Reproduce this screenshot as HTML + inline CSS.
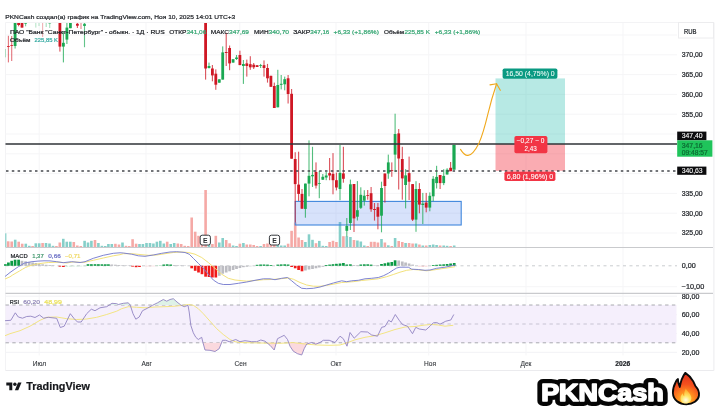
<!DOCTYPE html>
<html lang="ru"><head><meta charset="utf-8"><title>PKNCash — TradingView</title>
<style>
html,body{margin:0;padding:0;background:#fff;}
body{width:720px;height:411px;overflow:hidden;position:relative;font-family:"Liberation Sans",sans-serif;}
svg{position:absolute;left:0;top:0;display:block}
text{font-family:"Liberation Sans",sans-serif;}
</style></head><body>
<svg width="720" height="411" viewBox="0 0 720 411">
<defs>
<clipPath id="cp"><rect x="5" y="23" width="672" height="225"/></clipPath>
<radialGradient id="fg1" gradientUnits="userSpaceOnUse" cx="188" cy="320" r="240"><stop offset="0" stop-color="#ffc531"/><stop offset="0.3" stop-color="#ff8f1f"/><stop offset="0.6" stop-color="#f4511e"/><stop offset="1" stop-color="#e0301a"/></radialGradient>
<radialGradient id="fg2" gradientUnits="userSpaceOnUse" cx="190" cy="320" r="110"><stop offset="0" stop-color="#fffbe6"/><stop offset="0.35" stop-color="#ffe66a"/><stop offset="0.8" stop-color="#ffb02e"/><stop offset="1" stop-color="#ff9a26" stop-opacity="0.6"/></radialGradient>
</defs>
<rect width="720" height="411" fill="#fff"/>

<g stroke="#ececee" stroke-width="1" fill="none">
<path d="M5.5 370.5V22.5H713.5" stroke="#f3f3f5"/><path d="M713.9 22.5V370.5H5.5" stroke="#ebebee"/>
<path d="M5.5 233.0H677" stroke="#f5f5f7"/>
<path d="M5.5 213.2H677" stroke="#f5f5f7"/>
<path d="M5.5 193.4H677" stroke="#f5f5f7"/>
<path d="M5.5 173.6H677" stroke="#f5f5f7"/>
<path d="M5.5 153.8H677" stroke="#f5f5f7"/>
<path d="M5.5 134.0H677" stroke="#f5f5f7"/>
<path d="M5.5 114.2H677" stroke="#f5f5f7"/>
<path d="M5.5 94.4H677" stroke="#f5f5f7"/>
<path d="M5.5 74.6H677" stroke="#f5f5f7"/>
<path d="M5.5 54.8H677" stroke="#f5f5f7"/>
<path d="M5.5 35.0H677" stroke="#f5f5f7"/>
<path d="M5.5 286.7H677" stroke="#f5f5f7"/>
<path d="M5.5 296.2H677" stroke="#f2f2f5"/>
<path d="M5.5 314.7H677" stroke="#f2f2f5"/>
<path d="M5.5 333.5H677" stroke="#f2f2f5"/>
<path d="M5.5 352.3H677" stroke="#f2f2f5"/>
<path d="M39.2 23V355.5" stroke="#f5f5f7"/>
<path d="M146 23V355.5" stroke="#f5f5f7"/>
<path d="M239.8 23V355.5" stroke="#f5f5f7"/>
<path d="M336 23V355.5" stroke="#f5f5f7"/>
<path d="M428.7 23V355.5" stroke="#f5f5f7"/>
<path d="M526 23V355.5" stroke="#f5f5f7"/>
<path d="M623 23V355.5" stroke="#f5f5f7"/>
</g>
<rect x="5.5" y="305" width="671" height="37.8" fill="#f5effc"/>
<g clip-path="url(#cp)">
<rect x="5.20" y="233.3" width="1.2" height="13.7" fill="#86cfc9"/>
<rect x="6.90" y="241.3" width="2.6" height="5.7" fill="#f5a9a6"/>
<rect x="10.40" y="241.5" width="2.6" height="5.5" fill="#f5a9a6"/>
<rect x="13.90" y="239.7" width="2.6" height="7.3" fill="#86cfc9"/>
<rect x="17.40" y="241.7" width="2.6" height="5.3" fill="#f5a9a6"/>
<rect x="20.90" y="243.7" width="2.6" height="3.3" fill="#f5a9a6"/>
<rect x="24.50" y="243.7" width="2.6" height="3.3" fill="#86cfc9"/>
<rect x="28.00" y="245.8" width="2.6" height="1.2" fill="#86cfc9"/>
<rect x="31.30" y="246.0" width="2.6" height="1.0" fill="#f5a9a6"/>
<rect x="34.50" y="243.3" width="2.6" height="3.7" fill="#86cfc9"/>
<rect x="37.90" y="243.3" width="2.6" height="3.7" fill="#86cfc9"/>
<rect x="41.30" y="243.0" width="2.6" height="4.0" fill="#f5a9a6"/>
<rect x="44.70" y="243.0" width="2.6" height="4.0" fill="#86cfc9"/>
<rect x="48.20" y="243.5" width="2.6" height="3.5" fill="#86cfc9"/>
<rect x="51.70" y="245.8" width="2.6" height="1.2" fill="#86cfc9"/>
<rect x="55.10" y="246.0" width="2.6" height="1.0" fill="#f5a9a6"/>
<rect x="58.50" y="242.5" width="2.6" height="4.5" fill="#f5a9a6"/>
<rect x="62.00" y="238.8" width="2.6" height="8.2" fill="#86cfc9"/>
<rect x="65.50" y="241.7" width="2.6" height="5.3" fill="#86cfc9"/>
<rect x="69.00" y="241.7" width="2.6" height="5.3" fill="#86cfc9"/>
<rect x="72.50" y="242.0" width="2.6" height="5.0" fill="#f5a9a6"/>
<rect x="76.00" y="245.5" width="2.6" height="1.5" fill="#f5a9a6"/>
<rect x="79.50" y="246.0" width="2.6" height="1.0" fill="#f5a9a6"/>
<rect x="83.30" y="240.8" width="2.6" height="6.2" fill="#86cfc9"/>
<rect x="86.70" y="242.5" width="2.6" height="4.5" fill="#86cfc9"/>
<rect x="90.10" y="240.8" width="2.6" height="6.2" fill="#86cfc9"/>
<rect x="93.70" y="240.0" width="2.6" height="7.0" fill="#f5a9a6"/>
<rect x="97.10" y="243.0" width="2.6" height="4.0" fill="#86cfc9"/>
<rect x="100.60" y="245.8" width="2.6" height="1.2" fill="#86cfc9"/>
<rect x="104.00" y="246.0" width="2.6" height="1.0" fill="#86cfc9"/>
<rect x="107.10" y="244.0" width="2.6" height="3.0" fill="#86cfc9"/>
<rect x="110.50" y="244.0" width="2.6" height="3.0" fill="#86cfc9"/>
<rect x="114.10" y="243.8" width="2.6" height="3.2" fill="#f5a9a6"/>
<rect x="117.70" y="244.5" width="2.6" height="2.5" fill="#f5a9a6"/>
<rect x="121.20" y="242.5" width="2.6" height="4.5" fill="#86cfc9"/>
<rect x="124.70" y="245.8" width="2.6" height="1.2" fill="#f5a9a6"/>
<rect x="128.00" y="246.0" width="2.6" height="1.0" fill="#f5a9a6"/>
<rect x="131.30" y="239.2" width="2.6" height="7.8" fill="#f5a9a6"/>
<rect x="134.80" y="243.7" width="2.6" height="3.3" fill="#f5a9a6"/>
<rect x="138.20" y="244.0" width="2.6" height="3.0" fill="#86cfc9"/>
<rect x="141.60" y="244.0" width="2.6" height="3.0" fill="#86cfc9"/>
<rect x="145.20" y="243.0" width="2.6" height="4.0" fill="#86cfc9"/>
<rect x="148.70" y="243.0" width="2.6" height="4.0" fill="#86cfc9"/>
<rect x="152.10" y="243.5" width="2.6" height="3.5" fill="#86cfc9"/>
<rect x="155.60" y="241.7" width="2.6" height="5.3" fill="#86cfc9"/>
<rect x="159.00" y="240.8" width="2.6" height="6.2" fill="#86cfc9"/>
<rect x="162.50" y="243.5" width="2.6" height="3.5" fill="#86cfc9"/>
<rect x="165.90" y="241.7" width="2.6" height="5.3" fill="#f5a9a6"/>
<rect x="169.40" y="244.0" width="2.6" height="3.0" fill="#86cfc9"/>
<rect x="172.90" y="243.0" width="2.6" height="4.0" fill="#86cfc9"/>
<rect x="176.50" y="243.5" width="2.6" height="3.5" fill="#f5a9a6"/>
<rect x="179.90" y="244.0" width="2.6" height="3.0" fill="#f5a9a6"/>
<rect x="183.40" y="245.8" width="2.6" height="1.2" fill="#f5a9a6"/>
<rect x="186.90" y="246.0" width="2.6" height="1.0" fill="#f5a9a6"/>
<rect x="190.40" y="217.5" width="2.6" height="29.5" fill="#f5a9a6"/>
<rect x="193.90" y="231.7" width="2.6" height="15.3" fill="#f5a9a6"/>
<rect x="197.20" y="235.8" width="2.6" height="11.2" fill="#f5a9a6"/>
<rect x="200.70" y="240.0" width="2.6" height="7.0" fill="#f5a9a6"/>
<rect x="204.30" y="190.0" width="2.6" height="57.0" fill="#f5a9a6"/>
<rect x="207.70" y="244.0" width="2.6" height="3.0" fill="#86cfc9"/>
<rect x="211.10" y="244.0" width="2.6" height="3.0" fill="#f5a9a6"/>
<rect x="214.50" y="235.8" width="2.6" height="11.2" fill="#f5a9a6"/>
<rect x="218.00" y="242.5" width="2.6" height="4.5" fill="#86cfc9"/>
<rect x="221.40" y="238.0" width="2.6" height="9.0" fill="#86cfc9"/>
<rect x="224.90" y="240.0" width="2.6" height="7.0" fill="#f5a9a6"/>
<rect x="228.30" y="243.3" width="2.6" height="3.7" fill="#f5a9a6"/>
<rect x="231.80" y="245.5" width="2.6" height="1.5" fill="#86cfc9"/>
<rect x="235.20" y="246.0" width="2.6" height="1.0" fill="#86cfc9"/>
<rect x="238.60" y="243.7" width="2.6" height="3.3" fill="#f5a9a6"/>
<rect x="242.10" y="243.0" width="2.6" height="4.0" fill="#86cfc9"/>
<rect x="245.50" y="244.5" width="2.6" height="2.5" fill="#f5a9a6"/>
<rect x="249.00" y="244.5" width="2.6" height="2.5" fill="#f5a9a6"/>
<rect x="252.40" y="245.0" width="2.6" height="2.0" fill="#f5a9a6"/>
<rect x="255.80" y="246.0" width="2.6" height="1.0" fill="#f5a9a6"/>
<rect x="259.30" y="246.0" width="2.6" height="1.0" fill="#86cfc9"/>
<rect x="262.70" y="244.0" width="2.6" height="3.0" fill="#f5a9a6"/>
<rect x="266.20" y="243.5" width="2.6" height="3.5" fill="#f5a9a6"/>
<rect x="269.60" y="242.0" width="2.6" height="5.0" fill="#f5a9a6"/>
<rect x="273.00" y="240.0" width="2.6" height="7.0" fill="#f5a9a6"/>
<rect x="276.50" y="241.0" width="2.6" height="6.0" fill="#86cfc9"/>
<rect x="279.90" y="245.5" width="2.6" height="1.5" fill="#86cfc9"/>
<rect x="283.40" y="245.5" width="2.6" height="1.5" fill="#86cfc9"/>
<rect x="286.80" y="243.7" width="2.6" height="3.3" fill="#f5a9a6"/>
<rect x="290.30" y="230.8" width="2.6" height="16.2" fill="#f5a9a6"/>
<rect x="293.90" y="222.5" width="2.6" height="24.5" fill="#f5a9a6"/>
<rect x="297.30" y="237.5" width="2.6" height="9.5" fill="#f5a9a6"/>
<rect x="300.70" y="240.0" width="2.6" height="7.0" fill="#f5a9a6"/>
<rect x="304.10" y="242.0" width="2.6" height="5.0" fill="#86cfc9"/>
<rect x="307.70" y="234.3" width="2.6" height="12.7" fill="#86cfc9"/>
<rect x="311.20" y="239.8" width="2.6" height="7.2" fill="#86cfc9"/>
<rect x="314.70" y="243.2" width="2.6" height="3.8" fill="#f5a9a6"/>
<rect x="318.00" y="240.9" width="2.6" height="6.1" fill="#86cfc9"/>
<rect x="321.50" y="245.8" width="2.6" height="1.2" fill="#86cfc9"/>
<rect x="324.90" y="246.0" width="2.6" height="1.0" fill="#86cfc9"/>
<rect x="328.30" y="242.0" width="2.6" height="5.0" fill="#f5a9a6"/>
<rect x="331.70" y="240.8" width="2.6" height="6.2" fill="#f5a9a6"/>
<rect x="335.10" y="242.0" width="2.6" height="5.0" fill="#f5a9a6"/>
<rect x="338.70" y="222.0" width="2.6" height="25.0" fill="#86cfc9"/>
<rect x="342.10" y="236.2" width="2.6" height="10.8" fill="#f5a9a6"/>
<rect x="345.50" y="236.2" width="2.6" height="10.8" fill="#86cfc9"/>
<rect x="349.10" y="237.0" width="2.6" height="10.0" fill="#86cfc9"/>
<rect x="352.70" y="240.0" width="2.6" height="7.0" fill="#f5a9a6"/>
<rect x="356.10" y="240.5" width="2.6" height="6.5" fill="#86cfc9"/>
<rect x="359.50" y="241.5" width="2.6" height="5.5" fill="#86cfc9"/>
<rect x="363.00" y="245.5" width="2.6" height="1.5" fill="#86cfc9"/>
<rect x="366.40" y="246.0" width="2.6" height="1.0" fill="#f5a9a6"/>
<rect x="369.80" y="241.8" width="2.6" height="5.2" fill="#f5a9a6"/>
<rect x="373.20" y="241.8" width="2.6" height="5.2" fill="#f5a9a6"/>
<rect x="376.60" y="242.5" width="2.6" height="4.5" fill="#f5a9a6"/>
<rect x="380.20" y="239.0" width="2.6" height="8.0" fill="#86cfc9"/>
<rect x="383.60" y="242.5" width="2.6" height="4.5" fill="#f5a9a6"/>
<rect x="387.00" y="245.3" width="2.6" height="1.7" fill="#86cfc9"/>
<rect x="390.50" y="246.0" width="2.6" height="1.0" fill="#f5a9a6"/>
<rect x="393.80" y="238.0" width="2.6" height="9.0" fill="#86cfc9"/>
<rect x="397.40" y="241.0" width="2.6" height="6.0" fill="#f5a9a6"/>
<rect x="401.00" y="242.0" width="2.6" height="5.0" fill="#f5a9a6"/>
<rect x="404.30" y="243.0" width="2.6" height="4.0" fill="#86cfc9"/>
<rect x="407.80" y="243.0" width="2.6" height="4.0" fill="#f5a9a6"/>
<rect x="411.30" y="243.5" width="2.6" height="3.5" fill="#f5a9a6"/>
<rect x="414.70" y="243.5" width="2.6" height="3.5" fill="#86cfc9"/>
<rect x="418.10" y="244.5" width="2.6" height="2.5" fill="#f5a9a6"/>
<rect x="421.50" y="245.5" width="2.6" height="1.5" fill="#86cfc9"/>
<rect x="424.90" y="245.5" width="2.6" height="1.5" fill="#f5a9a6"/>
<rect x="428.50" y="245.0" width="2.6" height="2.0" fill="#86cfc9"/>
<rect x="431.90" y="244.5" width="2.6" height="2.5" fill="#86cfc9"/>
<rect x="435.30" y="245.0" width="2.6" height="2.0" fill="#86cfc9"/>
<rect x="438.80" y="245.5" width="2.6" height="1.5" fill="#f5a9a6"/>
<rect x="442.40" y="245.5" width="2.6" height="1.5" fill="#86cfc9"/>
<rect x="445.80" y="245.8" width="2.6" height="1.2" fill="#86cfc9"/>
<rect x="449.30" y="246.0" width="2.6" height="1.0" fill="#f5a9a6"/>
<rect x="452.90" y="245.5" width="2.6" height="1.5" fill="#86cfc9"/>
</g>
<rect x="295.2" y="201.4" width="166" height="23.6" fill="#4a7dec" fill-opacity="0.22" stroke="#3f86dd" stroke-width="1.1"/>
<rect x="495.5" y="78.4" width="69.5" height="65.7" fill="#12b5a6" fill-opacity="0.3"/>
<rect x="495.5" y="144.1" width="69.5" height="26.8" fill="#f23645" fill-opacity="0.41"/>
<g clip-path="url(#cp)">
<rect x="4.85" y="49.0" width="1.1" height="8.3" fill="#1aa852" fill-opacity="0.34"/>
<rect x="7.85" y="35.8" width="1.1" height="26.6" fill="#cf1724" fill-opacity="0.60"/><rect x="7.00" y="46.0" width="2.8" height="1.0" fill="#cf1724" fill-opacity="0.80"/>
<rect x="11.15" y="36.0" width="1.1" height="25.0" fill="#cf1724" fill-opacity="0.60"/><rect x="10.30" y="45.0" width="2.8" height="1.0" fill="#cf1724" fill-opacity="0.80"/>
<rect x="14.55" y="23.0" width="1.1" height="25.5" fill="#1aa852" fill-opacity="0.75"/><rect x="13.70" y="23.0" width="2.8" height="23.0" fill="#1aa852" fill-opacity="1.00"/>
<rect x="18.05" y="23.0" width="1.1" height="3.3" fill="#cf1724" fill-opacity="0.75"/><rect x="17.20" y="23.0" width="2.8" height="2.0" fill="#cf1724" fill-opacity="1.00"/>
<rect x="21.45" y="23.0" width="1.1" height="4.6" fill="#cf1724" fill-opacity="0.75"/><rect x="20.60" y="23.0" width="2.8" height="4.6" fill="#cf1724" fill-opacity="1.00"/>
<rect x="25.05" y="23.0" width="1.1" height="3.3" fill="#1aa852" fill-opacity="0.60"/><rect x="24.20" y="23.0" width="2.8" height="0.8" fill="#1aa852" fill-opacity="0.80"/>
<rect x="35.25" y="23.0" width="1.1" height="4.6" fill="#1aa852" fill-opacity="0.30"/>
<rect x="38.45" y="23.0" width="1.1" height="3.0" fill="#1aa852" fill-opacity="0.30"/>
<rect x="42.05" y="23.0" width="1.1" height="14.0" fill="#cf1724" fill-opacity="0.34"/>
<rect x="45.65" y="23.0" width="1.1" height="4.0" fill="#1aa852" fill-opacity="0.38"/>
<rect x="49.15" y="23.0" width="1.1" height="5.0" fill="#1aa852" fill-opacity="0.38"/><rect x="48.30" y="23.0" width="2.8" height="0.8" fill="#1aa852" fill-opacity="0.50"/>
<rect x="59.35" y="23.0" width="1.1" height="28.6" fill="#cf1724" fill-opacity="0.75"/><rect x="58.50" y="23.0" width="2.8" height="23.6" fill="#cf1724" fill-opacity="1.00"/>
<rect x="62.85" y="31.4" width="1.1" height="31.0" fill="#1aa852" fill-opacity="0.75"/><rect x="62.00" y="42.8" width="2.8" height="3.8" fill="#1aa852" fill-opacity="1.00"/>
<rect x="66.35" y="23.0" width="1.1" height="21.0" fill="#1aa852" fill-opacity="0.75"/><rect x="65.50" y="27.6" width="2.8" height="12.0" fill="#1aa852" fill-opacity="1.00"/>
<rect x="69.85" y="23.0" width="1.1" height="5.2" fill="#1aa852" fill-opacity="0.75"/><rect x="69.00" y="23.0" width="2.8" height="5.2" fill="#1aa852" fill-opacity="1.00"/>
<rect x="76.85" y="23.0" width="1.1" height="5.0" fill="#cf1724" fill-opacity="0.75"/><rect x="76.00" y="23.8" width="2.8" height="1.9" fill="#cf1724" fill-opacity="1.00"/>
<rect x="80.45" y="23.0" width="1.1" height="6.0" fill="#cf1724" fill-opacity="0.52"/>
<rect x="83.95" y="23.0" width="1.1" height="24.2" fill="#1aa852" fill-opacity="0.68"/><rect x="83.10" y="23.8" width="2.8" height="2.2" fill="#1aa852" fill-opacity="0.90"/>
<rect x="205.05" y="23.0" width="1.1" height="56.6" fill="#cf1724" fill-opacity="0.75"/><rect x="204.20" y="23.0" width="2.8" height="45.5" fill="#cf1724" fill-opacity="1.00"/>
<rect x="208.45" y="62.6" width="1.1" height="5.9" fill="#1aa852" fill-opacity="0.75"/><rect x="207.60" y="66.0" width="2.8" height="2.0" fill="#1aa852" fill-opacity="1.00"/>
<rect x="211.85" y="65.0" width="1.1" height="16.3" fill="#cf1724" fill-opacity="0.75"/><rect x="211.00" y="68.5" width="2.8" height="6.9" fill="#cf1724" fill-opacity="1.00"/>
<rect x="215.25" y="69.4" width="1.1" height="20.4" fill="#cf1724" fill-opacity="0.75"/><rect x="214.40" y="73.7" width="2.8" height="11.0" fill="#cf1724" fill-opacity="1.00"/>
<rect x="218.75" y="79.3" width="1.1" height="3.4" fill="#1aa852" fill-opacity="0.75"/><rect x="217.90" y="79.3" width="2.8" height="3.4" fill="#1aa852" fill-opacity="1.00"/>
<rect x="222.15" y="46.4" width="1.1" height="33.2" fill="#1aa852" fill-opacity="0.75"/><rect x="221.30" y="52.4" width="2.8" height="27.2" fill="#1aa852" fill-opacity="1.00"/>
<rect x="225.65" y="32.8" width="1.1" height="33.2" fill="#cf1724" fill-opacity="0.75"/><rect x="224.80" y="52.0" width="2.8" height="1.0" fill="#cf1724" fill-opacity="1.00"/>
<rect x="229.05" y="45.5" width="1.1" height="24.7" fill="#cf1724" fill-opacity="0.75"/><rect x="228.20" y="48.0" width="2.8" height="15.4" fill="#cf1724" fill-opacity="1.00"/>
<rect x="232.55" y="59.2" width="1.1" height="3.4" fill="#1aa852" fill-opacity="0.75"/><rect x="231.70" y="59.2" width="2.8" height="3.4" fill="#1aa852" fill-opacity="1.00"/>
<rect x="235.95" y="55.0" width="1.1" height="5.0" fill="#1aa852" fill-opacity="0.75"/><rect x="235.10" y="57.5" width="2.8" height="1.5" fill="#1aa852" fill-opacity="1.00"/>
<rect x="239.35" y="50.7" width="1.1" height="14.4" fill="#cf1724" fill-opacity="0.75"/><rect x="238.50" y="55.0" width="2.8" height="10.1" fill="#cf1724" fill-opacity="1.00"/>
<rect x="242.85" y="60.0" width="1.1" height="23.9" fill="#1aa852" fill-opacity="0.75"/><rect x="242.00" y="64.0" width="2.8" height="2.0" fill="#1aa852" fill-opacity="1.00"/>
<rect x="246.25" y="59.6" width="1.1" height="17.0" fill="#cf1724" fill-opacity="0.75"/><rect x="245.40" y="63.4" width="2.8" height="2.6" fill="#cf1724" fill-opacity="1.00"/>
<rect x="249.75" y="56.2" width="1.1" height="13.6" fill="#cf1724" fill-opacity="0.75"/><rect x="248.90" y="64.2" width="2.8" height="3.1" fill="#cf1724" fill-opacity="1.00"/>
<rect x="253.15" y="63.0" width="1.1" height="6.0" fill="#cf1724" fill-opacity="0.75"/><rect x="252.30" y="64.7" width="2.8" height="2.6" fill="#cf1724" fill-opacity="1.00"/>
<rect x="256.55" y="65.2" width="1.1" height="1.8" fill="#cf1724" fill-opacity="0.75"/><rect x="255.70" y="65.2" width="2.8" height="1.8" fill="#cf1724" fill-opacity="1.00"/>
<rect x="260.05" y="63.9" width="1.1" height="4.1" fill="#1aa852" fill-opacity="0.75"/><rect x="259.20" y="65.2" width="2.8" height="0.8" fill="#1aa852" fill-opacity="1.00"/>
<rect x="263.45" y="60.4" width="1.1" height="16.2" fill="#cf1724" fill-opacity="0.75"/><rect x="262.60" y="65.2" width="2.8" height="2.8" fill="#cf1724" fill-opacity="1.00"/>
<rect x="266.95" y="63.9" width="1.1" height="18.7" fill="#cf1724" fill-opacity="0.75"/><rect x="266.10" y="68.0" width="2.8" height="10.3" fill="#cf1724" fill-opacity="1.00"/>
<rect x="270.35" y="75.8" width="1.1" height="11.0" fill="#cf1724" fill-opacity="0.75"/><rect x="269.50" y="75.8" width="2.8" height="11.0" fill="#cf1724" fill-opacity="1.00"/>
<rect x="273.75" y="82.6" width="1.1" height="25.4" fill="#cf1724" fill-opacity="0.75"/><rect x="272.90" y="86.0" width="2.8" height="22.0" fill="#cf1724" fill-opacity="1.00"/>
<rect x="277.25" y="69.8" width="1.1" height="37.5" fill="#1aa852" fill-opacity="0.75"/><rect x="276.40" y="85.0" width="2.8" height="22.3" fill="#1aa852" fill-opacity="1.00"/>
<rect x="280.65" y="75.0" width="1.1" height="14.4" fill="#1aa852" fill-opacity="0.75"/><rect x="279.80" y="83.8" width="2.8" height="1.0" fill="#1aa852" fill-opacity="1.00"/>
<rect x="284.15" y="76.6" width="1.1" height="13.7" fill="#1aa852" fill-opacity="0.75"/><rect x="283.30" y="79.2" width="2.8" height="5.1" fill="#1aa852" fill-opacity="1.00"/>
<rect x="287.55" y="75.0" width="1.1" height="28.5" fill="#cf1724" fill-opacity="0.75"/><rect x="286.70" y="78.3" width="2.8" height="15.7" fill="#cf1724" fill-opacity="1.00"/>
<rect x="291.05" y="89.0" width="1.1" height="69.7" fill="#cf1724" fill-opacity="0.75"/><rect x="290.20" y="93.8" width="2.8" height="64.9" fill="#cf1724" fill-opacity="1.00"/>
<rect x="294.65" y="152.2" width="1.1" height="70.3" fill="#cf1724" fill-opacity="0.75"/><rect x="293.80" y="159.0" width="2.8" height="25.1" fill="#cf1724" fill-opacity="1.00"/>
<rect x="298.05" y="151.7" width="1.1" height="49.3" fill="#cf1724" fill-opacity="0.75"/><rect x="297.20" y="184.6" width="2.8" height="9.3" fill="#cf1724" fill-opacity="1.00"/>
<rect x="301.45" y="189.0" width="1.1" height="19.7" fill="#cf1724" fill-opacity="0.75"/><rect x="300.60" y="193.9" width="2.8" height="14.8" fill="#cf1724" fill-opacity="1.00"/>
<rect x="304.85" y="183.6" width="1.1" height="34.1" fill="#1aa852" fill-opacity="0.75"/><rect x="304.00" y="183.6" width="2.8" height="25.3" fill="#1aa852" fill-opacity="1.00"/>
<rect x="308.45" y="140.4" width="1.1" height="55.9" fill="#1aa852" fill-opacity="0.75"/><rect x="307.60" y="175.8" width="2.8" height="7.8" fill="#1aa852" fill-opacity="1.00"/>
<rect x="311.95" y="146.8" width="1.1" height="40.2" fill="#1aa852" fill-opacity="0.75"/><rect x="311.10" y="174.9" width="2.8" height="1.4" fill="#1aa852" fill-opacity="1.00"/>
<rect x="315.45" y="162.4" width="1.1" height="26.1" fill="#cf1724" fill-opacity="0.75"/><rect x="314.60" y="172.0" width="2.8" height="13.6" fill="#cf1724" fill-opacity="1.00"/>
<rect x="318.75" y="171.0" width="1.1" height="27.2" fill="#1aa852" fill-opacity="0.75"/><rect x="317.90" y="183.2" width="2.8" height="0.8" fill="#1aa852" fill-opacity="1.00"/>
<rect x="322.25" y="174.0" width="1.1" height="6.0" fill="#1aa852" fill-opacity="0.75"/><rect x="321.40" y="176.8" width="2.8" height="2.9" fill="#1aa852" fill-opacity="1.00"/>
<rect x="325.65" y="172.0" width="1.1" height="8.2" fill="#1aa852" fill-opacity="0.75"/><rect x="324.80" y="175.5" width="2.8" height="2.0" fill="#1aa852" fill-opacity="1.00"/>
<rect x="329.05" y="158.0" width="1.1" height="22.2" fill="#cf1724" fill-opacity="0.75"/><rect x="328.20" y="173.1" width="2.8" height="2.4" fill="#cf1724" fill-opacity="1.00"/>
<rect x="332.45" y="153.1" width="1.1" height="41.2" fill="#cf1724" fill-opacity="0.75"/><rect x="331.60" y="173.9" width="2.8" height="6.3" fill="#cf1724" fill-opacity="1.00"/>
<rect x="335.85" y="172.6" width="1.1" height="17.8" fill="#cf1724" fill-opacity="0.75"/><rect x="335.00" y="180.2" width="2.8" height="7.3" fill="#cf1724" fill-opacity="1.00"/>
<rect x="339.45" y="144.9" width="1.1" height="55.3" fill="#1aa852" fill-opacity="0.75"/><rect x="338.60" y="172.9" width="2.8" height="16.1" fill="#1aa852" fill-opacity="1.00"/>
<rect x="342.85" y="146.8" width="1.1" height="35.9" fill="#cf1724" fill-opacity="0.75"/><rect x="342.00" y="173.4" width="2.8" height="5.4" fill="#cf1724" fill-opacity="1.00"/>
<rect x="346.25" y="218.0" width="1.1" height="18.5" fill="#1aa852" fill-opacity="0.75"/><rect x="345.40" y="226.0" width="2.8" height="4.8" fill="#1aa852" fill-opacity="1.00"/>
<rect x="349.85" y="179.6" width="1.1" height="50.4" fill="#1aa852" fill-opacity="0.75"/><rect x="349.00" y="184.3" width="2.8" height="38.7" fill="#1aa852" fill-opacity="1.00"/>
<rect x="353.45" y="184.0" width="1.1" height="48.0" fill="#cf1724" fill-opacity="0.75"/><rect x="352.60" y="184.0" width="2.8" height="34.4" fill="#cf1724" fill-opacity="1.00"/>
<rect x="356.85" y="181.1" width="1.1" height="39.4" fill="#1aa852" fill-opacity="0.75"/><rect x="356.00" y="210.2" width="2.8" height="6.5" fill="#1aa852" fill-opacity="1.00"/>
<rect x="360.25" y="187.3" width="1.1" height="21.7" fill="#1aa852" fill-opacity="0.75"/><rect x="359.40" y="194.8" width="2.8" height="13.0" fill="#1aa852" fill-opacity="1.00"/>
<rect x="363.75" y="190.2" width="1.1" height="15.4" fill="#1aa852" fill-opacity="0.75"/><rect x="362.90" y="195.7" width="2.8" height="5.0" fill="#1aa852" fill-opacity="1.00"/>
<rect x="367.15" y="190.0" width="1.1" height="9.7" fill="#cf1724" fill-opacity="0.75"/><rect x="366.30" y="195.0" width="2.8" height="0.8" fill="#cf1724" fill-opacity="1.00"/>
<rect x="370.55" y="187.0" width="1.1" height="24.8" fill="#cf1724" fill-opacity="0.75"/><rect x="369.70" y="193.2" width="2.8" height="16.1" fill="#cf1724" fill-opacity="1.00"/>
<rect x="373.95" y="203.0" width="1.1" height="17.6" fill="#cf1724" fill-opacity="0.75"/><rect x="373.10" y="209.0" width="2.8" height="1.0" fill="#cf1724" fill-opacity="1.00"/>
<rect x="377.35" y="203.0" width="1.1" height="26.3" fill="#cf1724" fill-opacity="0.75"/><rect x="376.50" y="207.2" width="2.8" height="9.5" fill="#cf1724" fill-opacity="1.00"/>
<rect x="380.95" y="181.7" width="1.1" height="50.6" fill="#1aa852" fill-opacity="0.75"/><rect x="380.10" y="188.0" width="2.8" height="27.7" fill="#1aa852" fill-opacity="1.00"/>
<rect x="384.35" y="173.5" width="1.1" height="29.1" fill="#cf1724" fill-opacity="0.75"/><rect x="383.50" y="173.5" width="2.8" height="12.5" fill="#cf1724" fill-opacity="1.00"/>
<rect x="387.75" y="154.6" width="1.1" height="24.2" fill="#1aa852" fill-opacity="0.75"/><rect x="386.90" y="162.4" width="2.8" height="11.1" fill="#1aa852" fill-opacity="1.00"/>
<rect x="391.25" y="162.4" width="1.1" height="14.4" fill="#cf1724" fill-opacity="0.75"/><rect x="390.40" y="170.0" width="2.8" height="0.8" fill="#cf1724" fill-opacity="1.00"/>
<rect x="394.55" y="113.7" width="1.1" height="58.4" fill="#1aa852" fill-opacity="0.75"/><rect x="393.70" y="134.0" width="2.8" height="20.6" fill="#1aa852" fill-opacity="1.00"/>
<rect x="398.15" y="129.0" width="1.1" height="60.5" fill="#cf1724" fill-opacity="0.75"/><rect x="397.30" y="133.4" width="2.8" height="25.1" fill="#cf1724" fill-opacity="1.00"/>
<rect x="401.75" y="146.8" width="1.1" height="52.9" fill="#cf1724" fill-opacity="0.75"/><rect x="400.90" y="159.0" width="2.8" height="19.4" fill="#cf1724" fill-opacity="1.00"/>
<rect x="405.05" y="169.2" width="1.1" height="39.2" fill="#1aa852" fill-opacity="0.75"/><rect x="404.20" y="175.4" width="2.8" height="9.6" fill="#1aa852" fill-opacity="1.00"/>
<rect x="408.55" y="156.6" width="1.1" height="43.4" fill="#cf1724" fill-opacity="0.75"/><rect x="407.70" y="173.1" width="2.8" height="8.6" fill="#cf1724" fill-opacity="1.00"/>
<rect x="412.05" y="184.1" width="1.1" height="36.9" fill="#cf1724" fill-opacity="0.75"/><rect x="411.20" y="184.1" width="2.8" height="35.5" fill="#cf1724" fill-opacity="1.00"/>
<rect x="415.45" y="181.2" width="1.1" height="50.6" fill="#1aa852" fill-opacity="0.75"/><rect x="414.60" y="189.0" width="2.8" height="30.6" fill="#1aa852" fill-opacity="1.00"/>
<rect x="418.85" y="183.1" width="1.1" height="30.2" fill="#cf1724" fill-opacity="0.75"/><rect x="418.00" y="189.0" width="2.8" height="15.6" fill="#cf1724" fill-opacity="1.00"/>
<rect x="422.25" y="192.9" width="1.1" height="31.1" fill="#1aa852" fill-opacity="0.75"/><rect x="421.40" y="203.6" width="2.8" height="1.4" fill="#1aa852" fill-opacity="1.00"/>
<rect x="425.65" y="192.9" width="1.1" height="19.4" fill="#cf1724" fill-opacity="0.75"/><rect x="424.80" y="202.6" width="2.8" height="5.0" fill="#cf1724" fill-opacity="1.00"/>
<rect x="429.25" y="192.4" width="1.1" height="18.9" fill="#1aa852" fill-opacity="0.75"/><rect x="428.40" y="195.8" width="2.8" height="11.8" fill="#1aa852" fill-opacity="1.00"/>
<rect x="432.65" y="176.0" width="1.1" height="25.2" fill="#1aa852" fill-opacity="0.75"/><rect x="431.80" y="178.8" width="2.8" height="17.5" fill="#1aa852" fill-opacity="1.00"/>
<rect x="436.05" y="165.8" width="1.1" height="22.7" fill="#1aa852" fill-opacity="0.75"/><rect x="435.20" y="176.9" width="2.8" height="6.2" fill="#1aa852" fill-opacity="1.00"/>
<rect x="439.55" y="175.0" width="1.1" height="14.0" fill="#cf1724" fill-opacity="0.75"/><rect x="438.70" y="175.0" width="2.8" height="8.1" fill="#cf1724" fill-opacity="1.00"/>
<rect x="443.15" y="169.2" width="1.1" height="15.9" fill="#1aa852" fill-opacity="0.75"/><rect x="442.30" y="175.9" width="2.8" height="7.2" fill="#1aa852" fill-opacity="1.00"/>
<rect x="446.55" y="168.2" width="1.1" height="6.3" fill="#1aa852" fill-opacity="0.75"/><rect x="445.70" y="169.7" width="2.8" height="4.8" fill="#1aa852" fill-opacity="1.00"/>
<rect x="450.05" y="162.0" width="1.1" height="9.2" fill="#cf1724" fill-opacity="0.75"/><rect x="449.20" y="167.8" width="2.8" height="3.4" fill="#cf1724" fill-opacity="1.00"/>
<rect x="453.45" y="144.9" width="1.1" height="24.8" fill="#1aa852" fill-opacity="0.75"/><rect x="452.40" y="144.9" width="3.2" height="24.8" fill="#1aa852" fill-opacity="1.00"/>
</g>
<path d="M5.5 144.1H677" stroke="#2f3337" stroke-width="1.5"/>
<path d="M6 171H677" stroke="#45484d" stroke-width="1.3" stroke-dasharray="2.5 3.3"/>
<path d="M460.5 149.4C463 153.5 465.5 155.6 468 155.4C472 155 476 149 479.1 142.9C483 134 485.5 124 487.8 114.4C490.5 103 493.5 93 496.6 83.8" fill="none" stroke="#f0a81c" stroke-width="1.1" stroke-linecap="round"/>
<path d="M490 84.9L496.6 83.8L500.3 90.3" fill="none" stroke="#f0a81c" stroke-width="1.1" stroke-linecap="round" stroke-linejoin="round"/>
<rect x="200.2" y="235.2" width="10.2" height="9.8" rx="2" fill="#fff" stroke="#34373c" stroke-width="1"/>
<text x="205.3" y="242.7" font-size="6.9" font-weight="700" text-anchor="middle" fill="#2a2d31">E</text>
<rect x="269.4" y="235.2" width="10.2" height="9.8" rx="2" fill="#fff" stroke="#34373c" stroke-width="1"/>
<text x="274.5" y="242.7" font-size="6.9" font-weight="700" text-anchor="middle" fill="#2a2d31">E</text>
<path d="M5.5 247.5H713" stroke="#c9cacd" stroke-width="1.1"/>
<path d="M5.5 293.4H713" stroke="#c9cacd" stroke-width="1.1"/>
<path d="M5.5 265.8H677" stroke="#c4c6cb" stroke-width="0.9" stroke-dasharray="3 3.5"/>
<rect x="4.05" y="264.2" width="2.7" height="1.6" fill="#0a9a44"/>
<rect x="7.05" y="262.5" width="2.7" height="3.3" fill="#0a9a44"/>
<rect x="10.35" y="260.8" width="2.7" height="5.0" fill="#0a9a44"/>
<rect x="13.75" y="259.7" width="2.7" height="6.1" fill="#0a9a44"/>
<rect x="17.25" y="259.7" width="2.7" height="6.1" fill="#0a9a44"/>
<rect x="20.65" y="260.8" width="2.7" height="5.0" fill="#bcbcc2"/>
<rect x="24.25" y="261.3" width="2.7" height="4.5" fill="#bcbcc2"/>
<rect x="27.85" y="262.0" width="2.7" height="3.8" fill="#bcbcc2"/>
<rect x="31.25" y="262.5" width="2.7" height="3.3" fill="#bcbcc2"/>
<rect x="34.45" y="263.0" width="2.7" height="2.8" fill="#bcbcc2"/>
<rect x="37.65" y="263.7" width="2.7" height="2.1" fill="#bcbcc2"/>
<rect x="41.25" y="264.3" width="2.7" height="1.5" fill="#bcbcc2"/>
<rect x="44.85" y="264.8" width="2.7" height="1.0" fill="#bcbcc2"/>
<rect x="48.35" y="265.0" width="2.7" height="0.8" fill="#bcbcc2"/>
<rect x="51.85" y="265.3" width="2.7" height="0.5" fill="#bcbcc2"/>
<rect x="58.55" y="265.8" width="2.7" height="0.8" fill="#f01a1a"/>
<rect x="62.05" y="265.8" width="2.7" height="1.2" fill="#f01a1a"/>
<rect x="65.55" y="265.8" width="2.7" height="0.7" fill="#b9e3c6"/>
<rect x="69.05" y="265.8" width="2.7" height="0.7" fill="#b9e3c6"/>
<rect x="72.55" y="265.8" width="2.7" height="0.5" fill="#b9e3c6"/>
<rect x="76.05" y="265.8" width="2.7" height="0.5" fill="#b9e3c6"/>
<rect x="79.65" y="265.8" width="2.7" height="0.5" fill="#b9e3c6"/>
<rect x="83.15" y="265.8" width="2.7" height="0.4" fill="#b9e3c6"/>
<rect x="86.65" y="264.2" width="2.7" height="1.6" fill="#0a9a44"/>
<rect x="90.05" y="264.2" width="2.7" height="1.6" fill="#0a9a44"/>
<rect x="93.65" y="264.2" width="2.7" height="1.6" fill="#0a9a44"/>
<rect x="97.05" y="264.2" width="2.7" height="1.6" fill="#0a9a44"/>
<rect x="100.55" y="264.3" width="2.7" height="1.5" fill="#0a9a44"/>
<rect x="103.95" y="264.3" width="2.7" height="1.5" fill="#0a9a44"/>
<rect x="107.05" y="264.3" width="2.7" height="1.5" fill="#0a9a44"/>
<rect x="110.45" y="264.5" width="2.7" height="1.3" fill="#bcbcc2"/>
<rect x="114.05" y="264.7" width="2.7" height="1.1" fill="#bcbcc2"/>
<rect x="117.65" y="265.0" width="2.7" height="0.8" fill="#bcbcc2"/>
<rect x="121.15" y="265.2" width="2.7" height="0.6" fill="#bcbcc2"/>
<rect x="124.65" y="265.3" width="2.7" height="0.5" fill="#bcbcc2"/>
<rect x="127.95" y="265.4" width="2.7" height="0.4" fill="#bcbcc2"/>
<rect x="131.25" y="265.8" width="2.7" height="0.8" fill="#f01a1a"/>
<rect x="134.75" y="265.8" width="2.7" height="1.4" fill="#f01a1a"/>
<rect x="138.15" y="265.8" width="2.7" height="1.2" fill="#f01a1a"/>
<rect x="145.15" y="265.8" width="2.7" height="0.5" fill="#f6b9bd"/>
<rect x="148.65" y="265.8" width="2.7" height="0.5" fill="#f6b9bd"/>
<rect x="152.05" y="265.8" width="2.7" height="0.4" fill="#f6b9bd"/>
<rect x="155.55" y="265.2" width="2.7" height="0.6" fill="#b9e3c6"/>
<rect x="158.95" y="265.0" width="2.7" height="0.8" fill="#b9e3c6"/>
<rect x="162.45" y="264.5" width="2.7" height="1.3" fill="#0a9a44"/>
<rect x="165.85" y="264.3" width="2.7" height="1.5" fill="#0a9a44"/>
<rect x="169.35" y="264.5" width="2.7" height="1.3" fill="#0a9a44"/>
<rect x="172.85" y="265.0" width="2.7" height="0.8" fill="#bcbcc2"/>
<rect x="176.45" y="265.2" width="2.7" height="0.6" fill="#bcbcc2"/>
<rect x="179.85" y="265.3" width="2.7" height="0.5" fill="#bcbcc2"/>
<rect x="183.35" y="265.4" width="2.7" height="0.4" fill="#bcbcc2"/>
<rect x="190.35" y="265.8" width="2.7" height="2.5" fill="#f01a1a"/>
<rect x="193.85" y="265.8" width="2.7" height="5.0" fill="#f01a1a"/>
<rect x="197.15" y="265.8" width="2.7" height="6.7" fill="#f01a1a"/>
<rect x="200.65" y="265.8" width="2.7" height="8.4" fill="#f01a1a"/>
<rect x="204.25" y="265.8" width="2.7" height="10.9" fill="#f01a1a"/>
<rect x="207.65" y="265.8" width="2.7" height="11.2" fill="#f01a1a"/>
<rect x="211.05" y="265.8" width="2.7" height="11.7" fill="#f01a1a"/>
<rect x="214.45" y="265.8" width="2.7" height="11.7" fill="#f01a1a"/>
<rect x="217.95" y="265.8" width="2.7" height="10.0" fill="#bcbcc2"/>
<rect x="221.35" y="265.8" width="2.7" height="7.9" fill="#bcbcc2"/>
<rect x="224.85" y="265.8" width="2.7" height="6.7" fill="#bcbcc2"/>
<rect x="228.25" y="265.8" width="2.7" height="5.5" fill="#bcbcc2"/>
<rect x="231.75" y="265.8" width="2.7" height="4.2" fill="#bcbcc2"/>
<rect x="235.15" y="265.8" width="2.7" height="3.2" fill="#bcbcc2"/>
<rect x="238.55" y="265.8" width="2.7" height="2.2" fill="#bcbcc2"/>
<rect x="242.05" y="265.8" width="2.7" height="1.4" fill="#bcbcc2"/>
<rect x="245.45" y="265.8" width="2.7" height="0.9" fill="#bcbcc2"/>
<rect x="248.95" y="265.8" width="2.7" height="0.5" fill="#bcbcc2"/>
<rect x="255.75" y="264.8" width="2.7" height="1.0" fill="#0a9a44"/>
<rect x="259.25" y="264.5" width="2.7" height="1.3" fill="#0a9a44"/>
<rect x="262.65" y="264.5" width="2.7" height="1.3" fill="#0a9a44"/>
<rect x="266.15" y="264.6" width="2.7" height="1.2" fill="#0a9a44"/>
<rect x="269.55" y="265.0" width="2.7" height="0.8" fill="#0a9a44"/>
<rect x="276.45" y="264.6" width="2.7" height="1.2" fill="#0a9a44"/>
<rect x="279.85" y="264.4" width="2.7" height="1.4" fill="#0a9a44"/>
<rect x="283.35" y="264.3" width="2.7" height="1.5" fill="#0a9a44"/>
<rect x="286.75" y="264.5" width="2.7" height="1.3" fill="#0a9a44"/>
<rect x="290.25" y="265.8" width="2.7" height="1.2" fill="#f01a1a"/>
<rect x="293.85" y="265.8" width="2.7" height="2.5" fill="#f01a1a"/>
<rect x="297.25" y="265.8" width="2.7" height="4.2" fill="#f01a1a"/>
<rect x="300.65" y="265.8" width="2.7" height="5.5" fill="#f01a1a"/>
<rect x="304.05" y="265.8" width="2.7" height="4.7" fill="#bcbcc2"/>
<rect x="307.65" y="265.8" width="2.7" height="3.7" fill="#bcbcc2"/>
<rect x="311.15" y="265.8" width="2.7" height="3.2" fill="#bcbcc2"/>
<rect x="314.65" y="265.8" width="2.7" height="2.5" fill="#bcbcc2"/>
<rect x="317.95" y="265.8" width="2.7" height="1.7" fill="#bcbcc2"/>
<rect x="321.45" y="265.8" width="2.7" height="1.0" fill="#bcbcc2"/>
<rect x="324.85" y="265.0" width="2.7" height="0.8" fill="#0a9a44"/>
<rect x="328.25" y="264.6" width="2.7" height="1.2" fill="#0a9a44"/>
<rect x="331.65" y="264.2" width="2.7" height="1.6" fill="#0a9a44"/>
<rect x="335.05" y="263.8" width="2.7" height="2.0" fill="#0a9a44"/>
<rect x="338.65" y="263.5" width="2.7" height="2.3" fill="#0a9a44"/>
<rect x="342.05" y="263.0" width="2.7" height="2.8" fill="#0a9a44"/>
<rect x="345.45" y="264.5" width="2.7" height="1.3" fill="#0a9a44"/>
<rect x="349.05" y="264.3" width="2.7" height="1.5" fill="#0a9a44"/>
<rect x="352.65" y="265.0" width="2.7" height="0.8" fill="#bcbcc2"/>
<rect x="356.05" y="265.2" width="2.7" height="0.6" fill="#bcbcc2"/>
<rect x="359.45" y="264.5" width="2.7" height="1.3" fill="#0a9a44"/>
<rect x="362.95" y="264.3" width="2.7" height="1.5" fill="#0a9a44"/>
<rect x="366.35" y="264.3" width="2.7" height="1.5" fill="#0a9a44"/>
<rect x="369.75" y="264.6" width="2.7" height="1.2" fill="#0a9a44"/>
<rect x="373.15" y="265.2" width="2.7" height="0.6" fill="#bcbcc2"/>
<rect x="376.55" y="265.2" width="2.7" height="0.6" fill="#bcbcc2"/>
<rect x="380.15" y="264.0" width="2.7" height="1.8" fill="#0a9a44"/>
<rect x="383.55" y="263.3" width="2.7" height="2.5" fill="#0a9a44"/>
<rect x="386.95" y="262.5" width="2.7" height="3.3" fill="#0a9a44"/>
<rect x="390.45" y="262.0" width="2.7" height="3.8" fill="#0a9a44"/>
<rect x="393.75" y="260.3" width="2.7" height="5.5" fill="#0a9a44"/>
<rect x="397.35" y="260.5" width="2.7" height="5.3" fill="#bcbcc2"/>
<rect x="400.95" y="261.5" width="2.7" height="4.3" fill="#bcbcc2"/>
<rect x="404.25" y="262.5" width="2.7" height="3.3" fill="#bcbcc2"/>
<rect x="407.75" y="263.5" width="2.7" height="2.3" fill="#bcbcc2"/>
<rect x="411.25" y="264.6" width="2.7" height="1.2" fill="#bcbcc2"/>
<rect x="418.05" y="265.8" width="2.7" height="0.6" fill="#f6b9bd"/>
<rect x="421.45" y="265.8" width="2.7" height="0.8" fill="#f6b9bd"/>
<rect x="424.85" y="265.8" width="2.7" height="0.6" fill="#f6b9bd"/>
<rect x="431.85" y="265.0" width="2.7" height="0.8" fill="#0a9a44"/>
<rect x="435.25" y="264.8" width="2.7" height="1.0" fill="#0a9a44"/>
<rect x="438.75" y="264.5" width="2.7" height="1.3" fill="#0a9a44"/>
<rect x="442.35" y="264.3" width="2.7" height="1.5" fill="#0a9a44"/>
<rect x="445.75" y="264.0" width="2.7" height="1.8" fill="#0a9a44"/>
<rect x="449.25" y="263.5" width="2.7" height="2.3" fill="#0a9a44"/>
<rect x="452.85" y="263.0" width="2.7" height="2.8" fill="#0a9a44"/>
<polyline points="5.0,279.0 10.0,276.8 12.6,275.0 16.0,273.0 19.5,271.0 22.5,269.2 25.3,267.6 28.5,266.3 32.1,265.1 35.5,264.3 38.9,263.7 44.0,263.0 48.6,262.5 54.0,262.3 60.0,262.2 66.7,263.0 73.3,261.9 83.3,262.5 93.3,260.3 103.3,258.0 113.3,255.8 120.0,254.7 123.3,253.7 131.7,253.7 140.0,254.5 148.3,255.3 156.7,255.0 165.0,253.7 173.3,252.5 181.7,252.0 188.3,252.5 195.0,254.2 201.7,257.5 208.3,262.5 215.0,268.3 221.7,274.2 228.3,278.3 235.0,280.0 240.0,280.5 246.7,281.2 255.0,280.5 263.3,279.7 271.7,279.5 280.0,278.8 288.3,278.0 293.3,279.2 300.0,282.5 306.7,285.0 313.3,286.2 320.0,286.3 326.7,285.3 333.3,284.2 341.7,282.5 350.0,281.9 353.3,281.7 361.7,280.5 370.0,279.7 378.3,278.8 386.7,276.7 393.3,274.5 400.0,272.2 406.7,270.3 413.3,269.5 420.0,270.0 426.7,270.8 433.3,270.0 441.7,268.7 450.0,267.5 455.0,266.7" fill="none" stroke="#f1df74" stroke-width="0.95" stroke-linejoin="round"/>
<polyline points="5.0,276.5 10.0,272.5 15.0,269.0 18.5,266.6 21.5,264.8 24.3,263.2 28.0,262.3 32.0,261.7 38.0,261.1 44.0,260.8 50.0,260.9 56.7,261.7 63.3,262.7 71.7,261.7 80.0,262.5 85.0,261.7 93.3,258.3 103.3,255.3 113.3,253.3 120.0,252.8 123.3,253.0 131.7,254.2 138.3,255.8 145.0,256.3 153.3,255.0 161.7,253.3 170.0,252.0 176.7,251.7 185.0,252.5 189.2,254.2 193.3,258.3 198.3,263.3 203.3,268.3 208.3,274.2 213.3,280.0 218.3,283.3 223.3,284.5 230.0,284.5 238.3,283.3 246.7,282.0 255.0,280.3 263.3,278.8 270.0,278.8 275.0,279.7 281.7,278.3 287.5,277.5 291.7,280.8 296.7,285.0 301.7,288.3 306.7,288.7 313.3,288.3 320.0,287.0 326.7,285.0 333.3,283.0 341.7,280.8 346.7,281.7 351.7,280.8 358.3,280.3 365.0,278.8 371.7,278.3 378.3,277.5 383.3,275.8 388.3,273.3 393.3,270.0 396.7,268.0 400.0,267.2 408.3,267.2 411.7,269.2 418.3,269.5 425.0,270.3 430.0,270.0 436.7,268.3 445.0,267.2 451.7,265.8 455.0,265.0" fill="none" stroke="#787dd0" stroke-width="0.95" stroke-linejoin="round"/>
<path d="M5.5 305H677" stroke="#8e9096" stroke-width="0.75" stroke-dasharray="3.4 3.4"/>
<path d="M5.5 342.8H677" stroke="#8e9096" stroke-width="0.75" stroke-dasharray="3.4 3.4"/>
<path d="M5.5 324H677" stroke="#b5b2c2" stroke-width="0.7" stroke-dasharray="3.4 3.4"/>
<polygon points="109.3,305.0 112.0,303.3 116.7,303.7 118.3,304.5 123.3,303.3 128.3,302.8 130.1,305.0" fill="#def2e7"/>
<polygon points="153.1,305.0 157.5,302.8 163.3,299.5 166.7,301.2 170.0,299.5 173.3,298.7 177.0,302.0 180.8,305.0" fill="#def2e7"/>
<polygon points="203.0,342.8 205.0,350.0 210.0,350.3 215.0,351.5 219.2,348.7 221.5,342.8" fill="#fbd9de"/>
<polygon points="267.0,342.8 270.0,345.3 274.2,350.0 276.3,342.8" fill="#fbd9de"/>
<polygon points="288.7,342.8 290.0,346.2 293.3,351.2 297.5,353.7 301.7,355.0 304.2,348.7 306.7,344.0 310.7,342.8" fill="#fbd9de"/>
<polygon points="312.4,342.8 315.8,344.2 319.3,342.8" fill="#fbd9de"/>
<polygon points="345.3,342.8 347.0,346.2 347.7,342.8" fill="#fbd9de"/>
<polyline points="5.0,335.7 10.0,333.7 20.0,330.7 30.0,326.2 40.0,320.3 46.7,317.3 56.7,317.0 66.7,318.7 76.7,319.5 86.7,319.0 96.7,317.3 106.7,314.5 116.7,311.2 121.7,308.7 128.3,306.7 136.7,307.3 145.0,307.8 155.0,307.0 165.0,306.7 175.0,306.2 183.3,305.3 188.3,304.5 193.3,305.3 198.3,308.7 203.3,313.7 210.0,321.2 216.7,328.7 223.3,334.5 230.0,339.5 235.0,341.7 240.0,342.5 260.0,343.0 280.0,343.3 293.0,342.6 305.0,344.0 316.7,345.0 330.0,345.3 340.0,345.0 348.3,342.4 355.0,339.8 365.0,337.3 375.0,335.7 385.0,332.8 395.0,329.5 405.0,327.0 415.0,326.5 425.0,325.0 431.7,324.5 438.3,325.0 445.0,326.2 453.3,325.3" fill="none" stroke="#f2e47c" stroke-width="0.95" stroke-linejoin="round"/>
<polyline points="5.0,320.7 10.8,320.3 15.3,312.8 18.3,317.0 22.5,318.2 26.7,316.5 30.8,316.2 35.0,317.5 39.5,315.0 43.7,318.2 48.3,317.3 56.7,318.3 60.3,327.5 64.2,326.2 70.3,313.7 74.2,318.7 77.5,322.0 81.2,322.0 86.7,313.7 91.3,309.2 95.0,310.7 100.0,307.8 106.7,306.7 112.0,303.3 116.7,303.7 118.3,304.5 123.3,303.3 128.3,302.8 130.3,305.3 133.0,313.7 135.8,319.2 139.2,317.0 142.5,310.7 147.5,308.2 152.5,305.3 157.5,302.8 163.3,299.5 166.7,301.2 170.0,299.5 173.3,298.7 177.0,302.0 180.8,305.0 184.2,306.7 188.0,305.3 189.2,312.0 190.8,325.3 193.3,332.8 195.8,337.3 198.3,339.5 201.7,337.3 202.8,342.0 205.0,350.0 210.0,350.3 215.0,351.5 219.2,348.7 222.5,340.3 225.8,340.3 229.2,341.7 232.5,340.7 235.8,339.5 240.0,341.7 245.0,340.7 251.7,341.7 256.7,341.7 260.8,340.0 265.0,341.2 270.0,345.3 274.2,350.0 277.5,338.7 280.8,337.0 284.2,335.3 287.5,339.5 290.0,346.2 293.3,351.2 297.5,353.7 301.7,355.0 304.2,348.7 306.7,344.0 311.7,342.5 315.8,344.2 320.0,342.5 323.3,340.3 329.2,340.3 335.0,342.5 340.0,336.2 343.3,338.7 347.0,346.2 350.0,332.5 354.2,338.2 360.8,331.7 367.5,332.0 371.7,335.0 377.5,336.2 381.7,327.3 385.0,326.5 388.7,320.3 391.3,322.0 395.3,314.5 399.2,320.3 402.5,324.5 407.5,326.2 412.5,333.7 415.8,327.3 419.2,329.0 425.8,330.0 430.0,326.2 433.3,322.8 436.7,322.5 440.0,324.2 445.8,321.2 450.8,320.0 453.8,314.5" fill="none" stroke="#9183c2" stroke-width="0.9" stroke-linejoin="round"/>
<text x="5.3" y="18.9" font-size="6.1" fill="#25282d" stroke="#25282d" stroke-width="0.22" text-anchor="start" font-weight="400" textLength="230" lengthAdjust="spacingAndGlyphs">PKNCash создал(а) график на TradingView.com, Ноя 10, 2025 14:01 UTC+3</text>
<text x="9.9" y="33.6" font-size="6.1" fill="#1e2126" stroke="#1e2126" stroke-width="0.22" text-anchor="start" font-weight="400" textLength="154.8" lengthAdjust="spacingAndGlyphs">ПАО "Банк "Санкт-Петербург" - обыкн. · 1Д · RUS</text>
<text x="169.2" y="33.6" font-size="6.1" fill="#1e2126" stroke="#1e2126" stroke-width="0.22" text-anchor="start" font-weight="400" textLength="17.2" lengthAdjust="spacingAndGlyphs">ОТКР</text>
<text x="186.4" y="33.6" font-size="6.1" fill="#36a673" stroke="#36a673" stroke-width="0.22" text-anchor="start" font-weight="400" textLength="20" lengthAdjust="spacingAndGlyphs">341,06</text>
<text x="210.8" y="33.6" font-size="6.1" fill="#1e2126" stroke="#1e2126" stroke-width="0.22" text-anchor="start" font-weight="400" textLength="18.2" lengthAdjust="spacingAndGlyphs">МАКС</text>
<text x="229" y="33.6" font-size="6.1" fill="#36a673" stroke="#36a673" stroke-width="0.22" text-anchor="start" font-weight="400" textLength="20" lengthAdjust="spacingAndGlyphs">347,69</text>
<text x="254" y="33.6" font-size="6.1" fill="#1e2126" stroke="#1e2126" stroke-width="0.22" text-anchor="start" font-weight="400" textLength="14.6" lengthAdjust="spacingAndGlyphs">МИН</text>
<text x="268.6" y="33.6" font-size="6.1" fill="#36a673" stroke="#36a673" stroke-width="0.22" text-anchor="start" font-weight="400" textLength="20.5" lengthAdjust="spacingAndGlyphs">340,70</text>
<text x="293.2" y="33.6" font-size="6.1" fill="#1e2126" stroke="#1e2126" stroke-width="0.22" text-anchor="start" font-weight="400" textLength="17" lengthAdjust="spacingAndGlyphs">ЗАКР</text>
<text x="310.3" y="33.6" font-size="6.1" fill="#36a673" stroke="#36a673" stroke-width="0.22" text-anchor="start" font-weight="400" textLength="19" lengthAdjust="spacingAndGlyphs">347,16</text>
<text x="333.6" y="33.6" font-size="6.1" fill="#36a673" stroke="#36a673" stroke-width="0.22" text-anchor="start" font-weight="400" textLength="45.3" lengthAdjust="spacingAndGlyphs">+6,33 (+1,86%)</text>
<text x="384" y="33.6" font-size="6.1" fill="#1e2126" stroke="#1e2126" stroke-width="0.22" text-anchor="start" font-weight="400" textLength="20.2" lengthAdjust="spacingAndGlyphs">Объём</text>
<text x="404.4" y="33.6" font-size="6.1" fill="#36a673" stroke="#36a673" stroke-width="0.22" text-anchor="start" font-weight="400" textLength="25.5" lengthAdjust="spacingAndGlyphs">225,85 K</text>
<text x="434.7" y="33.6" font-size="6.1" fill="#36a673" stroke="#36a673" stroke-width="0.22" text-anchor="start" font-weight="400" textLength="45.6" lengthAdjust="spacingAndGlyphs">+6,33 (+1,86%)</text>
<text x="9.9" y="42.4" font-size="6.1" fill="#1e2126" stroke="#1e2126" stroke-width="0.22" text-anchor="start" font-weight="400" textLength="20.5" lengthAdjust="spacingAndGlyphs">Объём</text>
<text x="34.6" y="42.4" font-size="6.1" fill="#35aaa2" stroke="#35aaa2" stroke-width="0.22" text-anchor="start" font-weight="400" textLength="23.4" lengthAdjust="spacingAndGlyphs">225,85 K</text>
<text x="10.4" y="257.7" font-size="6.0" fill="#1e2126" stroke="#1e2126" stroke-width="0.22" text-anchor="start" font-weight="400" textLength="17.3" lengthAdjust="spacingAndGlyphs">MACD</text>
<text x="32.2" y="257.7" font-size="6.0" fill="#45996f" stroke="#45996f" stroke-width="0.22" text-anchor="start" font-weight="400" textLength="11.5" lengthAdjust="spacingAndGlyphs">1,37</text>
<text x="48.3" y="257.7" font-size="6.0" fill="#686dc4" stroke="#686dc4" stroke-width="0.22" text-anchor="start" font-weight="400" textLength="12.5" lengthAdjust="spacingAndGlyphs">0,66</text>
<text x="65" y="257.7" font-size="6.0" fill="#efd966" stroke="#efd966" stroke-width="0.22" text-anchor="start" font-weight="400" textLength="15.5" lengthAdjust="spacingAndGlyphs">−0,71</text>
<text x="9.8" y="304" font-size="6.0" fill="#1e2126" stroke="#1e2126" stroke-width="0.22" text-anchor="start" font-weight="400" textLength="9.2" lengthAdjust="spacingAndGlyphs">RSI</text>
<text x="23.3" y="304" font-size="6.0" fill="#8d82b4" stroke="#8d82b4" stroke-width="0.22" text-anchor="start" font-weight="400" textLength="16.6" lengthAdjust="spacingAndGlyphs">60,20</text>
<text x="44.3" y="304" font-size="6.0" fill="#ebe25e" stroke="#ebe25e" stroke-width="0.22" text-anchor="start" font-weight="400" textLength="17.5" lengthAdjust="spacingAndGlyphs">48,99</text>
<text x="681.7" y="57.099999999999994" font-size="6.7" fill="#25282d" stroke="#25282d" stroke-width="0.22" text-anchor="start" font-weight="400" textLength="21" lengthAdjust="spacingAndGlyphs">370,00</text>
<text x="681.7" y="76.89999999999999" font-size="6.7" fill="#25282d" stroke="#25282d" stroke-width="0.22" text-anchor="start" font-weight="400" textLength="21" lengthAdjust="spacingAndGlyphs">365,00</text>
<text x="681.7" y="96.7" font-size="6.7" fill="#25282d" stroke="#25282d" stroke-width="0.22" text-anchor="start" font-weight="400" textLength="21" lengthAdjust="spacingAndGlyphs">360,00</text>
<text x="681.7" y="116.5" font-size="6.7" fill="#25282d" stroke="#25282d" stroke-width="0.22" text-anchor="start" font-weight="400" textLength="21" lengthAdjust="spacingAndGlyphs">355,00</text>
<text x="681.7" y="195.70000000000002" font-size="6.7" fill="#25282d" stroke="#25282d" stroke-width="0.22" text-anchor="start" font-weight="400" textLength="21" lengthAdjust="spacingAndGlyphs">335,00</text>
<text x="681.7" y="215.5" font-size="6.7" fill="#25282d" stroke="#25282d" stroke-width="0.22" text-anchor="start" font-weight="400" textLength="21" lengthAdjust="spacingAndGlyphs">330,00</text>
<text x="681.7" y="235.3" font-size="6.7" fill="#25282d" stroke="#25282d" stroke-width="0.22" text-anchor="start" font-weight="400" textLength="21" lengthAdjust="spacingAndGlyphs">325,00</text>
<text x="684" y="34.3" font-size="6.3" fill="#25282d" stroke="#25282d" stroke-width="0.22" text-anchor="start" font-weight="400" textLength="12.5" lengthAdjust="spacingAndGlyphs">RUB</text>
<rect x="678.5" y="22.5" width="35" height="15.5" fill="none" stroke="#ececee"/>
<text x="681.7" y="267.7" font-size="6.7" fill="#25282d" stroke="#25282d" stroke-width="0.22" text-anchor="start" font-weight="400" textLength="14" lengthAdjust="spacingAndGlyphs">0,00</text>
<text x="681.7" y="289" font-size="6.7" fill="#25282d" stroke="#25282d" stroke-width="0.22" text-anchor="start" font-weight="400" textLength="22.5" lengthAdjust="spacingAndGlyphs">−10,00</text>
<text x="681.7" y="298.5" font-size="6.7" fill="#25282d" stroke="#25282d" stroke-width="0.22" text-anchor="start" font-weight="400" textLength="17.7" lengthAdjust="spacingAndGlyphs">80,00</text>
<text x="681.7" y="316.5" font-size="6.7" fill="#25282d" stroke="#25282d" stroke-width="0.22" text-anchor="start" font-weight="400" textLength="17.7" lengthAdjust="spacingAndGlyphs">60,00</text>
<text x="681.7" y="335.7" font-size="6.7" fill="#25282d" stroke="#25282d" stroke-width="0.22" text-anchor="start" font-weight="400" textLength="17.7" lengthAdjust="spacingAndGlyphs">40,00</text>
<text x="681.7" y="354.6" font-size="6.7" fill="#25282d" stroke="#25282d" stroke-width="0.22" text-anchor="start" font-weight="400" textLength="17.7" lengthAdjust="spacingAndGlyphs">20,00</text>
<rect x="677.2" y="131.6" width="29.2" height="8.7" fill="#0c0c0e"/>
<text x="681.7" y="138.3" font-size="6.7" fill="#fff" stroke="#fff" stroke-width="0.08" text-anchor="start" font-weight="400" textLength="21" lengthAdjust="spacingAndGlyphs">347,40</text>
<rect x="677.2" y="140.3" width="35.2" height="16.4" fill="#1fc45b"/>
<text x="681.7" y="147.6" font-size="6.7" fill="#0c6b33" stroke="#0c6b33" stroke-width="0.22" text-anchor="start" font-weight="400" textLength="21" lengthAdjust="spacingAndGlyphs">347,16</text>
<text x="681.7" y="154.6" font-size="6.7" fill="#0c6b33" stroke="#0c6b33" stroke-width="0.22" text-anchor="start" font-weight="400" textLength="26" lengthAdjust="spacingAndGlyphs">09:48:57</text>
<rect x="677.2" y="166.6" width="29.2" height="8.2" fill="#0c0c0e"/>
<text x="681.7" y="173" font-size="6.7" fill="#fff" stroke="#fff" stroke-width="0.08" text-anchor="start" font-weight="400" textLength="21" lengthAdjust="spacingAndGlyphs">340,63</text>
<rect x="502.6" y="68.5" width="54.8" height="10.2" rx="1.8" fill="#0a9a82"/>
<text x="530.2" y="76.2" font-size="6.9" fill="#eafaf6" stroke="#eafaf6" stroke-width="0.08" text-anchor="middle" font-weight="400" textLength="49" lengthAdjust="spacingAndGlyphs">16,50 (4,75%) 0</text>
<rect x="514.4" y="136" width="33" height="17.3" rx="1.8" fill="#f23545"/>
<text x="530.6" y="143.4" font-size="6.8" fill="#fff" stroke="#fff" stroke-width="0.08" text-anchor="middle" font-weight="400" textLength="27.7" lengthAdjust="spacingAndGlyphs">−0,27 ~ 0</text>
<text x="530.6" y="150.8" font-size="6.8" fill="#fff" stroke="#fff" stroke-width="0.08" text-anchor="middle" font-weight="400" textLength="12.3" lengthAdjust="spacingAndGlyphs">2,43</text>
<rect x="504.4" y="171.4" width="51" height="9.6" rx="1.8" fill="#f23545"/>
<text x="530" y="178.7" font-size="6.8" fill="#fff" stroke="#fff" stroke-width="0.08" text-anchor="middle" font-weight="400" textLength="46.6" lengthAdjust="spacingAndGlyphs">6,80 (1,96%) 0</text>
<text x="39.5" y="366" font-size="6.6" fill="#2e3136" stroke="#2e3136" stroke-width="0.08" text-anchor="middle" font-weight="400">Июл</text>
<text x="146.7" y="366" font-size="6.6" fill="#2e3136" stroke="#2e3136" stroke-width="0.08" text-anchor="middle" font-weight="400">Авг</text>
<text x="240.5" y="366" font-size="6.6" fill="#2e3136" stroke="#2e3136" stroke-width="0.08" text-anchor="middle" font-weight="400">Сен</text>
<text x="336" y="366" font-size="6.6" fill="#2e3136" stroke="#2e3136" stroke-width="0.08" text-anchor="middle" font-weight="400">Окт</text>
<text x="430" y="366" font-size="6.6" fill="#2e3136" stroke="#2e3136" stroke-width="0.08" text-anchor="middle" font-weight="400">Ноя</text>
<text x="526" y="366" font-size="6.6" fill="#2e3136" stroke="#2e3136" stroke-width="0.08" text-anchor="middle" font-weight="400">Дек</text>
<text x="622.7" y="366" font-size="6.7" fill="#1e2126" stroke="#1e2126" stroke-width="0.22" text-anchor="middle" font-weight="700">2026</text>
<g transform="translate(6.3,380.8) scale(0.428)" fill="#16181c"><path d="M14 22H7V11H0V4h14v18z"/><circle cx="20" cy="8" r="4"/><path d="M28 22h-8l7.5-18h8L28 22z"/></g>
<text x="26.3" y="390.3" font-size="11.4" fill="#16181c" stroke="#16181c" stroke-width="0.22" text-anchor="start" font-weight="700" textLength="63.7" lengthAdjust="spacingAndGlyphs">TradingView</text>
<text x="541.2" y="400.5" font-size="23.6" font-weight="700" textLength="122.5" lengthAdjust="spacingAndGlyphs" fill="#fff" stroke="#050505" stroke-width="10" stroke-linejoin="round" paint-order="stroke">PKNCash</text>
<text x="541.2" y="400.5" font-size="23.6" font-weight="700" textLength="122.5" lengthAdjust="spacingAndGlyphs" fill="#fff" stroke="#fff" stroke-width="1.6" stroke-linejoin="round">PKNCash</text>
<g transform="translate(665,365) scale(0.10953)">
<path d="M185 72C205 85 240 115 258 150C268 170 272 185 280 195C300 215 314 245 310 280C305 325 255 358 195 358C130 358 75 320 72 255C70 215 85 180 98 155C103 143 110 133 118 128C118 150 125 180 135 200C140 170 150 120 185 72Z" fill="url(#fg1)" stroke="#0a0a0a" stroke-width="17" stroke-linejoin="round"/>
<path d="M190 215C205 245 235 262 240 295C244 330 222 352 192 352C160 352 138 330 142 298C144 282 152 268 162 258C163 270 168 280 176 285C174 260 178 235 190 215Z" fill="url(#fg2)"/>
</g>
</svg></body></html>
